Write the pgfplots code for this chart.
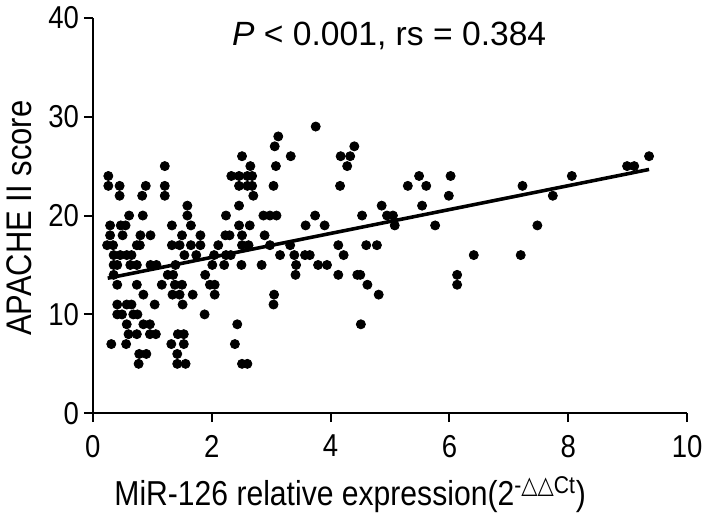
\documentclass[border=0pt]{standalone}
\usepackage{fontspec}
\setmainfont{Liberation Sans}
\newfontfamily\narrowfont[FakeStretch=0.87]{Liberation Sans}
\newfontfamily\symfont[FakeStretch=0.87]{DejaVu Sans}
\usepackage{pgfplots}
\pgfplotsset{compat=1.18}

\begin{document}
\begin{tikzpicture}
\begin{axis}[
  at={(0pt,0pt)}, anchor=south west,
  scale only axis,
  width=300.5pt, height=200pt,
  xmin=0, xmax=10, ymin=0, ymax=40,
  axis x line*=bottom, axis y line*=left,
  axis line style={line width=1pt, -},
  xtick={0,2,...,10}, ytick={0,10,...,40},
  tick align=outside,
  major tick length=4.5pt,
  tick style={line width=1pt, black},
  /pgf/number format/assume math mode=true,
  ticklabel style={font=\narrowfont\fontsize{16}{18}\selectfont},
  xticklabel style={yshift=-3pt},
  yticklabel style={xshift=1pt},
  xlabel={MiR-126 relative expression(2\textsuperscript{-{\symfont △△}Ct})},
  ylabel={APACHE II score},
  xlabel style={font=\narrowfont\fontsize{17.5}{20}\selectfont, at={(axis description cs:0.433,-0.205)}, anchor=center},
  ylabel style={font=\narrowfont\fontsize{18}{20}\selectfont, at={(axis description cs:-0.124,0.493)}, anchor=center},
  clip=false,
]
% scatter points
\addplot[only marks, mark=*, mark size=2.3pt, black] table[row sep=\\] {
x y \\
3.75 29 \\
3.12 28 \\
3.06 27 \\ 4.40 27 \\
2.51 26 \\ 3.33 26 \\ 4.17 26 \\ 4.33 26 \\ 9.36 26 \\
1.21 25 \\ 2.65 25 \\ 3.08 25 \\ 4.28 25 \\ 8.99 25 \\ 9.11 25 \\
0.26 24 \\ 2.33 24 \\ 2.46 24 \\ 2.60 24 \\ 2.68 24 \\ 5.49 24 \\ 6.02 24 \\ 8.06 24 \\
0.26 23 \\ 0.45 23 \\ 0.89 23 \\ 1.21 23 \\ 2.46 23 \\ 2.60 23 \\ 2.68 23 \\ 3.04 23 \\ 4.16 23 \\ 5.30 23 \\ 5.61 23 \\ 7.23 23 \\
0.45 22 \\ 0.83 22 \\ 1.21 22 \\ 2.70 22 \\ 5.99 22 \\ 7.74 22 \\
1.59 21 \\ 2.46 21 \\ 4.86 21 \\ 5.54 21 \\
0.61 20 \\ 0.84 20 \\ 1.59 20 \\ 2.24 20 \\ 2.87 20 \\ 2.98 20 \\ 3.09 20 \\ 3.74 20 \\ 4.53 20 \\ 4.95 20 \\ 5.05 20 \\
0.29 19 \\ 0.47 19 \\ 0.55 19 \\ 1.33 19 \\ 1.65 19 \\ 2.46 19 \\ 2.64 19 \\ 3.58 19 \\ 3.90 19 \\ 5.08 19 \\ 5.76 19 \\ 7.48 19 \\
0.29 18 \\ 0.50 18 \\ 0.80 18 \\ 0.97 18 \\ 1.50 18 \\ 1.81 18 \\ 2.23 18 \\ 2.30 18 \\ 2.51 18 \\ 2.89 18 \\
0.24 17 \\ 0.34 17 \\ 0.74 17 \\ 0.79 17 \\ 1.33 17 \\ 1.46 17 \\ 1.65 17 \\ 1.81 17 \\ 2.11 17 \\ 2.51 17 \\ 2.62 17 \\ 2.98 17 \\ 3.32 17 \\ 4.13 17 \\ 4.60 17 \\ 4.78 17 \\
0.35 16 \\ 0.46 16 \\ 0.57 16 \\ 0.65 16 \\ 1.54 16 \\ 1.74 16 \\ 2.04 16 \\ 2.24 16 \\ 2.32 16 \\ 3.15 16 \\ 3.39 16 \\ 3.57 16 \\ 3.65 16 \\ 4.22 16 \\ 6.41 16 \\ 7.20 16 \\
0.35 15 \\ 0.41 15 \\ 0.63 15 \\ 0.74 15 \\ 0.97 15 \\ 1.07 15 \\ 1.39 15 \\ 2.01 15 \\ 2.21 15 \\ 2.50 15 \\ 2.84 15 \\ 3.42 15 \\ 3.79 15 \\ 3.94 15 \\
0.35 14 \\ 1.26 14 \\ 1.35 14 \\ 1.89 14 \\ 3.41 14 \\ 4.13 14 \\ 4.45 14 \\ 4.50 14 \\ 6.13 14 \\
0.41 13 \\ 0.74 13 \\ 1.16 13 \\ 1.38 13 \\ 1.50 13 \\ 1.97 13 \\ 2.05 13 \\ 4.62 13 \\ 6.13 13 \\
0.85 12 \\ 1.34 12 \\ 1.46 12 \\ 1.68 12 \\ 2.05 12 \\ 3.05 12 \\ 4.81 12 \\
0.41 11 \\ 0.57 11 \\ 0.65 11 \\ 1.04 11 \\ 1.51 11 \\ 3.04 11 \\
0.41 10 \\ 0.49 10 \\ 0.68 10 \\ 0.75 10 \\ 1.88 10 \\
0.57 9 \\ 0.85 9 \\ 0.96 9 \\ 2.43 9 \\ 4.51 9 \\
0.60 8 \\ 0.74 8 \\ 0.96 8 \\ 1.06 8 \\ 1.43 8 \\ 1.53 8 \\
0.31 7 \\ 0.56 7 \\ 1.32 7 \\ 1.53 7 \\ 2.39 7 \\
0.78 6 \\ 0.90 6 \\ 1.42 6 \\
0.77 5 \\ 1.42 5 \\ 1.56 5 \\ 2.51 5 \\ 2.60 5 \\
};
% regression line
\addplot[black, line width=1.8pt] coordinates {(0.25,13.66) (9.36,24.66)};
\node[font=\fontsize{17}{20}\selectfont, anchor=center] at (axis description cs:0.4987,0.953)
  {\textit{P} < 0.001, rs = 0.384};
\end{axis}
\useasboundingbox (-46.15pt,-54.35pt) rectangle (308.35pt,206.65pt);
\end{tikzpicture}
\end{document}
